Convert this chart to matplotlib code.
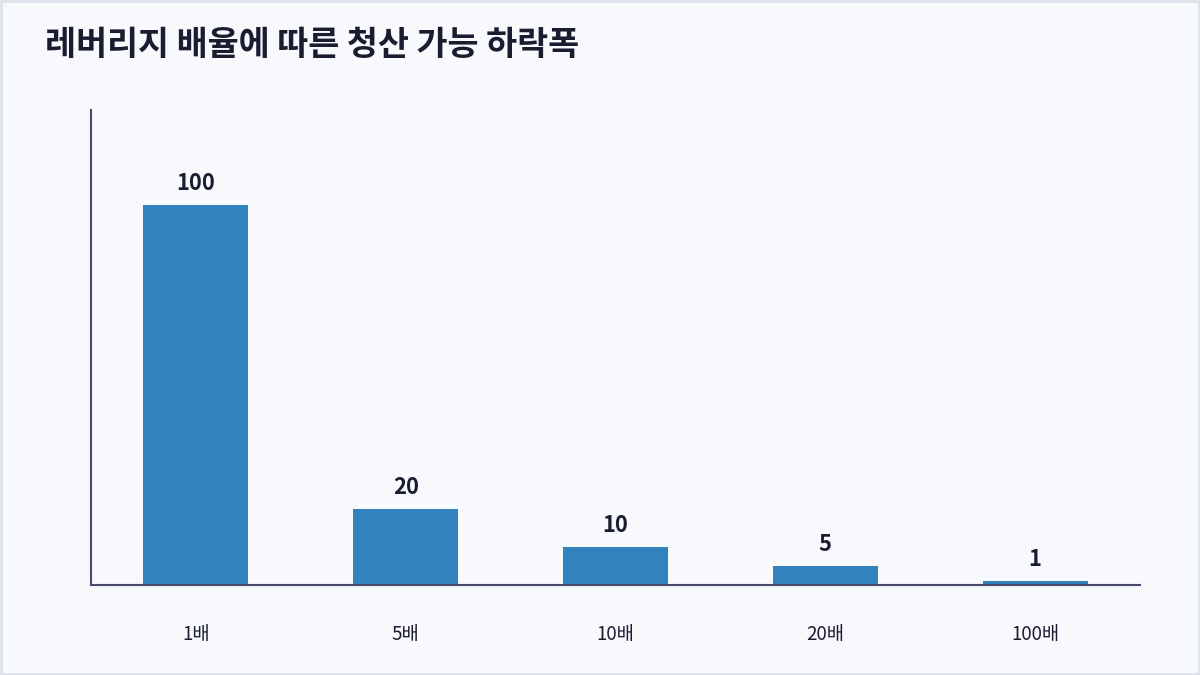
import matplotlib
matplotlib.use('Agg')
import matplotlib.pyplot as plt
from matplotlib.patches import Rectangle

plt.rcParams['font.family'] = ['Noto Sans CJK KR', 'DejaVu Sans']

# 데이터
leverage = ['1배', '5배', '10배', '20배', '100배']
drop_pct = [100, 20, 10, 5, 1]

bg = '#f8f9fd'
bar_color = '#3182bd'
text_color = '#1c1c30'
spine_color = '#4a4a68'

fig = plt.figure(figsize=(12, 6.75), dpi=100, facecolor=bg)
ax = fig.add_axes([91 / 1200, 1 - 585 / 675, 1049 / 1200, 475 / 675])
ax.set_facecolor(bg)

x = range(len(leverage))
bars = ax.bar(x, drop_pct, width=0.5, color=bar_color)
for b, v in zip(bars, drop_pct):
    ax.annotate(str(v), (b.get_x() + b.get_width() / 2, v),
                xytext=(0, 7), textcoords='offset points',
                ha='center', va='bottom', fontsize=15.8, fontweight='bold',
                color=text_color)

ax.set_xlim(-0.5, 4.5)
ax.set_ylim(0, 125)
ax.set_xticks(list(x))
ax.set_xticklabels(leverage, fontsize=13.5, color=text_color)
ax.tick_params(axis='x', length=0, pad=28)
ax.set_yticks([])
for s in ['top', 'right']:
    ax.spines[s].set_visible(False)
for s in ['left', 'bottom']:
    ax.spines[s].set_color(spine_color)
    ax.spines[s].set_linewidth(1.5)

fig.text(45 / 1200, 1 - 45 / 675, '레버리지 배율에 따른 청산 가능 하락폭',
         fontsize=24.3, fontweight='bold', color=text_color, va='center', ha='left')

fig.patches.append(Rectangle((0.001, 0.0015), 0.998, 0.997, transform=fig.transFigure,
                             fill=False, edgecolor='#dde3ec', linewidth=2))

fig.savefig('out.png', dpi=100, facecolor=bg)
